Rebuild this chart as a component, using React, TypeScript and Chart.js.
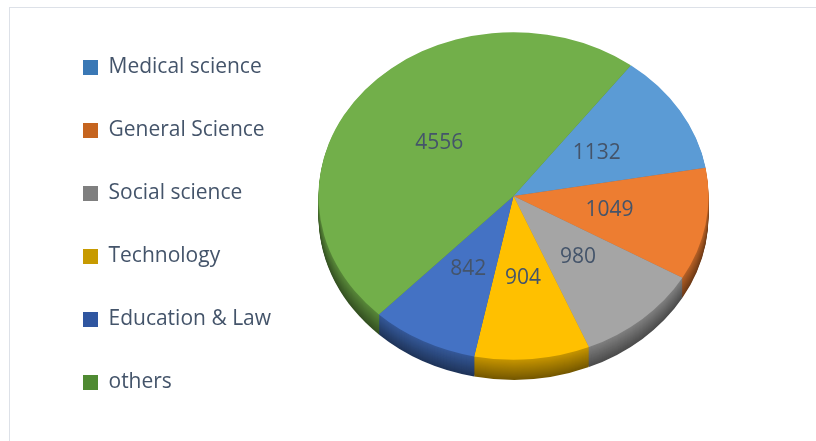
import React, { useEffect, useRef } from "react";
import { Chart, registerables } from "chart.js";

Chart.register(...registerables);

// ---- data ----
const categories = [
  "Medical science",
  "General Science",
  "Social science",
  "Technology",
  "Education & Law",
  "others",
];
const counts = [1132, 1049, 980, 904, 842, 4556];

// ---- styles ----
const sliceColors = ["#5B9BD5", "#ED7D31", "#A5A5A5", "#FFC000", "#4472C4", "#72AF4A"];
const legendColors = ["#3A78B5", "#C5641F", "#7F7F7F", "#C79A00", "#2F56A0", "#4F8A32"];
const TEXT = "#44546A";
const FONT = "'Open Sans', sans-serif";
const TILT = 0.84;
const LIFT = -29;
const DEPTH = 20;

function shade(hex: string, f: number): string {
  const n = parseInt(hex.slice(1), 16);
  const r = Math.round(((n >> 16) & 255) * f);
  const g = Math.round(((n >> 8) & 255) * f);
  const b = Math.round((n & 255) * f);
  return `rgb(${r},${g},${b})`;
}

const tiltPlugin = {
  id: "tilt3d",
  beforeDatasetsDraw(chart: any) {
    const arcs = chart.getDatasetMeta(0).data;
    chart.$tilted = false;
    if (!arcs.length) return;
    const ctx = chart.ctx;
    const cx = arcs[0].x;
    const cy = arcs[0].y;
    for (let d = DEPTH; d >= 1; d--) {
      ctx.save();
      ctx.translate(0, cy + LIFT + d);
      ctx.scale(1, TILT);
      ctx.translate(0, -cy);
      arcs.forEach((arc: any, i: number) => {
        const { startAngle, endAngle, outerRadius } = arc.getProps(
          ["startAngle", "endAngle", "outerRadius"],
          true
        );
        ctx.beginPath();
        ctx.moveTo(cx, cy);
        ctx.arc(cx, cy, outerRadius, startAngle, endAngle);
        ctx.closePath();
        ctx.fillStyle = shade(sliceColors[i], 0.78 - 0.32 * (d / DEPTH));
        ctx.fill();
      });
      ctx.restore();
    }
    ctx.save();
    ctx.translate(0, cy + LIFT);
    ctx.scale(1, TILT);
    ctx.translate(0, -cy);
    chart.$tilted = true;
  },
  afterDatasetsDraw(chart: any) {
    if (chart.$tilted) {
      chart.ctx.restore();
      chart.$tilted = false;
    }
  },
};

const labelPlugin = {
  id: "sliceLabels",
  afterDatasetsDraw(chart: any) {
    const arcs = chart.getDatasetMeta(0).data;
    if (!arcs.length) return;
    const ctx = chart.ctx;
    const cy = arcs[0].y;
    ctx.save();
    ctx.font = `21px ${FONT}`;
    ctx.fillStyle = TEXT;
    ctx.textAlign = "center";
    ctx.textBaseline = "middle";
    arcs.forEach((arc: any, i: number) => {
      const p = arc.tooltipPosition(true);
      const y = cy + LIFT + (p.y - cy) * TILT;
      ctx.fillText(String(counts[i]), p.x, y);
    });
    ctx.restore();
  },
};

export default function App() {
  const canvasRef = useRef<HTMLCanvasElement | null>(null);

  useEffect(() => {
    const canvas = canvasRef.current;
    if (!canvas) return;
    const chart = new Chart(canvas, {
      type: "pie",
      data: {
        labels: categories,
        datasets: [
          {
            data: counts,
            backgroundColor: sliceColors,
            borderWidth: 0,
            radius: 195,
          } as any,
        ],
      },
      options: {
        animation: false,
        responsive: true,
        maintainAspectRatio: false,
        events: [],
        rotation: 37,
        layout: { padding: { left: 41, top: 9, right: 70, bottom: 0 } },
        plugins: {
          tooltip: { enabled: false },
          legend: {
            position: "left",
            align: "center",
            labels: {
              boxWidth: 15,
              boxHeight: 15,
              padding: 42,
              color: TEXT,
              font: { family: FONT, size: 21 },
              generateLabels: (c: any) =>
                c.data.labels.map((t: string, i: number) => ({
                  text: t,
                  fillStyle: legendColors[i],
                  strokeStyle: legendColors[i],
                  lineWidth: 0,
                  hidden: false,
                  index: i,
                  fontColor: TEXT,
                })),
            },
          },
        },
      },
      plugins: [tiltPlugin, labelPlugin],
    });
    return () => chart.destroy();
  }, []);

  return (
    <div
      style={{
        position: "fixed",
        left: 0,
        top: 0,
        width: 816,
        height: 441,
        overflow: "hidden",
        background: "#ffffff",
      }}
    >
      <div
        style={{
          position: "absolute",
          left: 9,
          top: 7,
          width: 900,
          height: 500,
          border: "1px solid #DDE1E8",
          boxSizing: "border-box",
        }}
      />
      <div style={{ position: "absolute", left: 0, top: 0, width: 816, height: 441 }}>
        <canvas ref={canvasRef} />
      </div>
    </div>
  );
}
